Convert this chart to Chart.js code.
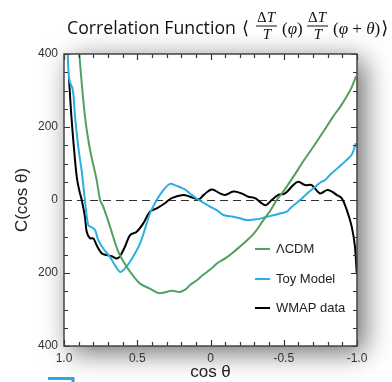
<!DOCTYPE html>
<html>
<head>
<meta charset="utf-8">
<script src="https://cdn.jsdelivr.net/npm/chart.js@4/dist/chart.umd.min.js"></script>
<style>
  body { margin: 0; background: #fff; }
  #wrap { width: 392px; height: 382px; position: relative; }
</style>
</head>
<body>
<div id="wrap"><canvas id="chart"></canvas></div>
<script>
// ΛCDM curve
const lcdmCos = [0.93, 0.896, 0.857, 0.822, 0.777, 0.754, 0.732, 0.686, 0.629, 0.572, 0.52, 0.481, 0.413, 0.356, 0.3, 0.276, 0.24, 0.208, 0.17, 0.14, 0.1, 0.05, 0, -0.05, -0.1, -0.15, -0.2, -0.25, -0.3, -0.361, -0.41, -0.452, -0.5, -0.566, -0.63, -0.702, -0.77, -0.838, -0.89, -0.93, -0.965, -0.993];
const lcdmC = [560, 400, 229, 137, 55, 0, -18, -73, -142, -183, -212, -229, -243, -255, -252, -249, -250, -252, -245, -233, -222, -205, -190, -172, -160, -145, -128, -110, -90, -55, -28, 0, 25, 64, 104, 146, 187, 229, 258, 284, 310, 339];

// toy model
const toyCos = [0.99, 0.975, 0.964, 0.94, 0.925, 0.9, 0.88, 0.857, 0.834, 0.81, 0.788, 0.766, 0.732, 0.686, 0.652, 0.618, 0.595, 0.549, 0.481, 0.413, 0.367, 0.322, 0.276, 0.24, 0.208, 0.17, 0.14, 0.08, 0.003, -0.05, -0.088, -0.156, -0.2, -0.247, -0.315, -0.384, -0.43, -0.474, -0.521, -0.543, -0.611, -0.66, -0.702, -0.75, -0.782, -0.816, -0.87, -0.93, -0.965, -0.993];
const toyC = [480, 400, 330, 302, 230, 137, 82, 0, -69, -75, -82, -110, -133, -156, -179, -197, -192, -169, -119, -37, 0, 27, 44, 40, 35, 28, 18, 0, -18, -30, -41, -46, -50, -55, -53, -46, -42, -37, -32, -23, 0, 18, 32, 48, 55, 69, 88, 110, 125, 156];

// WMAP data
const wmapCos = [0.966, 0.95, 0.925, 0.91, 0.894, 0.879, 0.857, 0.845, 0.823, 0.8, 0.777, 0.743, 0.709, 0.674, 0.64, 0.618, 0.584, 0.549, 0.504, 0.459, 0.413, 0.367, 0.311, 0.265, 0.186, 0.14, 0.08, 0.046, -0.008, -0.065, -0.099, -0.156, -0.213, -0.258, -0.304, -0.35, -0.379, -0.418, -0.463, -0.509, -0.565, -0.599, -0.645, -0.691, -0.747, -0.793, -0.82, -0.861, -0.895, -0.93, -0.964, -0.986, -0.998];
const wmapC = [335, 232, 110, 55, 23, 0, -46, -87, -105, -105, -124, -146, -151, -154, -160, -154, -128, -96, -87, -64, -32, -23, -9, 5, 14, 9, 2, 14, 29, 18, 14, 23, 18, 9, 5, -9, -14, 0, 14, 18, 41, 50, 41, 41, 18, 27, 25, 14, 5, -27, -73, -128, -201];

const seriesNames = ['\u039BCDM', 'Toy Model', 'WMAP data'];
const xTickValues = [1, 0.5, 0, -0.5, -1];
const xTickLabels = ['1.0', '0.5', '0', '-0.5', '-1.0'];
const yTickValues = [400, 200, 0, -200, -400];
const yTickLabels = ['400', '200', '0', '200', '400'];

const toPoints = (xs, ys) => xs.map((x, i) => ({ x: x, y: ys[i] }));

const SANS = '"Liberation Sans", Arial, sans-serif';
const SERIF = '"Liberation Serif", "DejaVu Serif", serif';

const decor = {
  id: 'decor',
  beforeDraw(chart) {
    const { ctx, chartArea: a } = chart;
    ctx.save();
    ctx.fillStyle = '#fff';
    ctx.fillRect(0, 0, chart.width, chart.height);
    ctx.shadowColor = 'rgba(0,0,0,0.6)';
    ctx.shadowBlur = 26;
    ctx.shadowOffsetX = 7;
    ctx.shadowOffsetY = 6;
    ctx.fillRect(a.left, a.top, a.right - a.left, a.bottom - a.top);
    ctx.restore();
  },
  beforeDatasetsDraw(chart) {
    const { ctx, chartArea: a, scales } = chart;
    const y0 = Math.round(scales.y.getPixelForValue(0)) + 0.5;
    ctx.save();
    ctx.strokeStyle = '#333';
    ctx.lineWidth = 1;
    ctx.setLineDash([8, 5]);
    ctx.beginPath();
    ctx.moveTo(a.left, y0);
    ctx.lineTo(a.right, y0);
    ctx.stroke();
    ctx.restore();
  },
  afterDraw(chart) {
    const { ctx, chartArea: a, scales } = chart;
    ctx.save();
    // inward ticks on all sides
    ctx.strokeStyle = '#333';
    ctx.lineWidth = 1.2;
    ctx.beginPath();
    for (let k = -10; k <= 10; k++) {
      const px = Math.round(scales.x.getPixelForValue(k / 10)) + 0.5;
      const len = k % 5 === 0 ? 6 : 4;
      ctx.moveTo(px, a.bottom); ctx.lineTo(px, a.bottom - len);
      ctx.moveTo(px, a.top); ctx.lineTo(px, a.top + len);
    }
    for (let k = -8; k <= 8; k++) {
      const py = Math.round(scales.y.getPixelForValue(k * 50)) + 0.5;
      const len = k % 4 === 0 ? 6 : 4;
      ctx.moveTo(a.left, py); ctx.lineTo(a.left + len, py);
      ctx.moveTo(a.right, py); ctx.lineTo(a.right - len, py);
    }
    ctx.stroke();
    // frame
    ctx.strokeStyle = '#444';
    ctx.lineWidth = 1.5;
    ctx.strokeRect(a.left, a.top, a.right - a.left, a.bottom - a.top);

    // legend
    ctx.font = '13px ' + SANS;
    ctx.textBaseline = 'middle';
    ctx.textAlign = 'left';
    const legY = [249, 279, 308];
    chart.data.datasets.forEach((ds, i) => {
      ctx.strokeStyle = ds.borderColor;
      ctx.lineWidth = 2;
      ctx.beginPath();
      ctx.moveTo(255, legY[i]); ctx.lineTo(270, legY[i]);
      ctx.stroke();
      ctx.fillStyle = '#222';
      ctx.fillText(ds.label, 276, legY[i]);
    });

    // axis titles
    ctx.fillStyle = '#222';
    ctx.font = '17px ' + SANS;
    ctx.textAlign = 'center';
    ctx.fillText('cos \u03B8', (a.left + a.right) / 2, 372);
    ctx.save();
    ctx.translate(22, (a.top + a.bottom) / 2);
    ctx.rotate(-Math.PI / 2);
    ctx.fillText('C(cos \u03B8)', 0, 0);
    ctx.restore();

    // title
    ctx.fillStyle = '#111';
    ctx.textBaseline = 'alphabetic';
    ctx.textAlign = 'left';
    const titleText = 'Correlation Function';
    ctx.font = '19px "Open Sans", sans-serif';
    const fs = 19 * 169 / ctx.measureText(titleText).width;
    ctx.font = fs.toFixed(1) + 'px "Open Sans", sans-serif';
    ctx.fillText(titleText, 67, 34);
    const mathY = 34;
    ctx.font = '18px ' + SERIF;
    ctx.fillText('\u27E8', 242, mathY);
    const frac = (x) => {
      ctx.font = '15px ' + SERIF;
      ctx.fillText('\u0394', x, 22);
      const dw = ctx.measureText('\u0394').width;
      ctx.font = 'italic 15px ' + SERIF;
      ctx.fillText('T', x + dw, 22);
      const tw = ctx.measureText('T').width;
      ctx.fillText('T', x + (dw + tw) / 2 - tw / 2 + 1, 39);
      ctx.fillRect(x - 1, 25.5, dw + tw + 3, 1);
    };
    const paren = (x, parts) => {
      let cx = x;
      parts.forEach(p => {
        ctx.font = (p.it ? 'italic ' : '') + '17px ' + SERIF;
        ctx.fillText(p.t, cx, mathY);
        cx += ctx.measureText(p.t).width;
      });
      return cx;
    };
    frac(257);
    paren(282, [{ t: '(' }, { t: '\u03C6', it: true }, { t: ')' }]);
    frac(308);
    const end = paren(333, [{ t: '(' }, { t: '\u03C6', it: true }, { t: ' + ' }, { t: '\u03B8', it: true }, { t: ')' }]);
    ctx.font = '18px ' + SERIF;
    ctx.fillText('\u27E9', end + 1, mathY);

    // blue bracket mark at bottom left
    ctx.strokeStyle = '#2aa8e0';
    ctx.lineWidth = 3;
    ctx.beginPath();
    ctx.moveTo(48, 378.5); ctx.lineTo(73, 378.5); ctx.lineTo(73, 384);
    ctx.stroke();
    ctx.restore();
  }
};

new Chart(document.getElementById('chart'), {
  type: 'line',
  data: {
    datasets: [
      { label: seriesNames[0], data: toPoints(lcdmCos, lcdmC), borderColor: '#52a060' },
      { label: seriesNames[1], data: toPoints(toyCos, toyC), borderColor: '#2aaee3' },
      { label: seriesNames[2], data: toPoints(wmapCos, wmapC), borderColor: '#000000' }
    ].map(d => Object.assign(d, { borderWidth: 2, pointRadius: 0, tension: 0.35, fill: false }))
  },
  options: {
    responsive: true,
    maintainAspectRatio: false,
    animation: false,
    layout: { padding: { left: 0, top: 54, right: 35, bottom: 0 } },
    plugins: { legend: { display: false }, tooltip: { enabled: false } },
    scales: {
      x: {
        type: 'linear', min: -1, max: 1, reverse: true,
        grid: { display: false, drawTicks: false }, border: { display: false },
        afterBuildTicks: s => { s.ticks = xTickValues.map(v => ({ value: v })); },
        afterFit: s => { s.height = 36; },
        ticks: {
          padding: 5, color: '#333', font: { size: 12, family: SANS },
          maxRotation: 0, autoSkip: false,
          callback: (v) => xTickLabels[xTickValues.indexOf(v)]
        }
      },
      y: {
        type: 'linear', min: -400, max: 400,
        grid: { display: false, drawTicks: false }, border: { display: false },
        afterBuildTicks: s => { s.ticks = yTickValues.map(v => ({ value: v })); },
        afterFit: s => { s.width = 64; },
        ticks: {
          padding: 6, color: '#333', font: { size: 12, family: SANS },
          autoSkip: false,
          callback: (v) => yTickLabels[yTickValues.indexOf(v)]
        }
      }
    }
  },
  plugins: [decor]
});
</script>
</body>
</html>
